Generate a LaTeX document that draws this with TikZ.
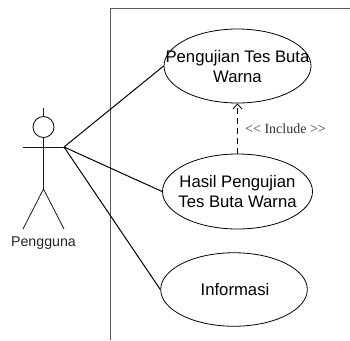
\documentclass[tikz,border=0pt]{standalone}
\usepackage{fontspec}
\setmainfont{Liberation Sans}
\newfontfamily\serifface{Liberation Serif}
\usetikzlibrary{arrows.meta,shapes.geometric}
\tikzset{
  usecase/.style={draw=black,line width=0.8pt,ellipse,minimum width=2*#1,minimum height=75pt,inner sep=0pt},
  usecase/.default=74pt,
  uctext/.style={align=center,inner sep=0pt,font=\fontsize{16.7}{20}\selectfont},
  limb/.style={draw=black!90,line width=0.8pt},
  assoc/.style={draw=black,line width=1pt},
  boundary/.style={draw=black!65,line width=0.9pt},
  incl/.style={draw=black,line width=0.8pt,dash pattern=on 6pt off 4pt,-{Straight Barb[length=5pt,width=9pt]}}
}
\begin{document}
\begin{tikzpicture}[x=1pt,y=-1pt]
\useasboundingbox (0,0) rectangle (350,340);
\coordinate (bt) at (110,8);
\coordinate (br) at (350,8);
\coordinate (bb) at (110,340);
\draw[boundary] (br) -- (bt) -- (bb);
\node[usecase=73.5pt,minimum height=74pt] (uc1) at (237.5,66) {};
\node[uctext] (uc1t) at (237.5,67) {Pengujian Tes Buta\\Warna};
\node[usecase=75pt] (uc2) at (237.5,191.5) {};
\node[uctext] (uc2t) at (237.5,192) {Hasil Pengujian\\Tes Buta Warna};
\node[usecase=73.3pt,minimum height=73.5pt] (uc3) at (234,289.5) {};
\node[uctext] (uc3t) at (235,290) {Informasi};
\node[draw=black,line width=0.8pt,circle,minimum size=21pt,inner sep=0pt] (head) at (43.5,127) {};
\coordinate (top) at (43.5,108);
\coordinate (armL) at (23,147);
\coordinate (armR) at (64,147);
\coordinate (hip) at (43.5,189);
\coordinate (legL) at (23,229);
\coordinate (legR) at (64,229);
\draw[limb] (top) -- (head.north);
\draw[limb] (head.south) -- (hip);
\draw[limb] (armL) -- (armR);
\draw[limb] (legL) -- (hip) -- (legR);
\node[font=\fontsize{14.2}{16}\selectfont,text=black!85] (actor) at (43.5,243) {Pengguna};
\draw[assoc] (armR) -- (uc1.west);
\draw[assoc] (armR) -- (uc2.west);
\draw[assoc] (armR) -- (uc3.west);
\draw[incl] (uc2.north) -- (uc1.south);
\node[font=\serifface\fontsize{14}{16}\selectfont,text=black!80] (lbl) at (285.5,128.5) {<{}< Include >{}>};
\end{tikzpicture}
\end{document}
